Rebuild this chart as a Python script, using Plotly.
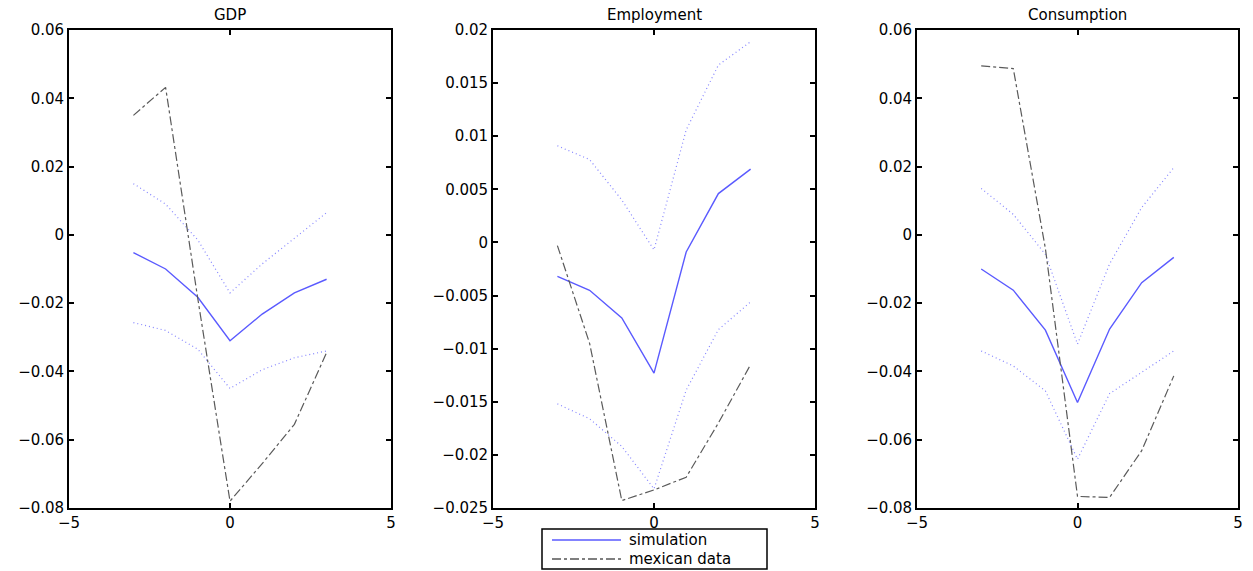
import plotly.graph_objects as go

lags = [-3, -2, -1, 0, 1, 2, 3]
titles = ["GDP", "Employment", "Consumption"]
legend_names = ["simulation", "mexican data"]

gdp_sim = [-0.0052, -0.0100, -0.0183, -0.0310, -0.0232, -0.0170, -0.0130]
gdp_up = [0.0150, 0.0090, -0.0015, -0.0170, -0.0085, -0.0010, 0.0065]
gdp_lo = [-0.0257, -0.0280, -0.0335, -0.0450, -0.0395, -0.0360, -0.0340]
gdp_mex = [0.0350, 0.0432, -0.0187, -0.0780, -0.0670, -0.0555, -0.0345]

emp_sim = [-0.0032, -0.0045, -0.0071, -0.0123, -0.0009, 0.0046, 0.0069]
emp_up = [0.0091, 0.0078, 0.0040, -0.0007, 0.0106, 0.0167, 0.0189]
emp_lo = [-0.0152, -0.0166, -0.0192, -0.0232, -0.0139, -0.0082, -0.0056]
emp_mex = [-0.0003, -0.0095, -0.0243, -0.0233, -0.0221, -0.0170, -0.0115]

con_sim = [-0.0100, -0.0162, -0.0279, -0.0491, -0.0276, -0.0140, -0.0066]
con_up = [0.0136, 0.0060, -0.0057, -0.0320, -0.0085, 0.0080, 0.0197]
con_lo = [-0.0340, -0.0384, -0.0457, -0.0657, -0.0465, -0.0403, -0.0340]
con_mex = [0.0495, 0.0487, -0.0040, -0.0766, -0.0769, -0.0632, -0.0413]

x_ticks = [-5, 0, 5]
x_ticktext = ["\u22125", "0", "5"]
y_ticks_a = [-0.08, -0.06, -0.04, -0.02, 0, 0.02, 0.04, 0.06]
y_text_a = ["\u22120.08", "\u22120.06", "\u22120.04", "\u22120.02", "0", "0.02", "0.04", "0.06"]
y_ticks_b = [-0.025, -0.02, -0.015, -0.01, -0.005, 0, 0.005, 0.01, 0.015, 0.02]
y_text_b = ["\u22120.025", "\u22120.02", "\u22120.015", "\u22120.01", "\u22120.005", "0",
            "0.005", "0.01", "0.015", "0.02"]

panels = [
    (gdp_sim, gdp_up, gdp_lo, gdp_mex, [-0.08, 0.06], y_ticks_a, y_text_a),
    (emp_sim, emp_up, emp_lo, emp_mex, [-0.025, 0.02], y_ticks_b, y_text_b),
    (con_sim, con_up, con_lo, con_mex, [-0.08, 0.06], y_ticks_a, y_text_a),
]

W, H = 1253, 571
x_domains = [(69, 391), (493, 815), (917, 1238)]
y_top, y_bot = 30, 508

SIM_C = "#5a5aff"
BAND_C = "#8585ff"
MEX_C = "#5a5a5a"
FONT = "DejaVu Sans, Liberation Sans, Arial, sans-serif"
FS = 15

fig = go.Figure()
layout = {}
annotations = []
for i, (sim, up, lo, mex, yr, yt, ytt) in enumerate(panels):
    n = "" if i == 0 else str(i + 1)
    xa, ya = "x" + n, "y" + n
    fig.add_trace(go.Scatter(x=lags, y=up, mode="lines", xaxis=xa, yaxis=ya,
                             line=dict(color=BAND_C, width=1.2, dash="1px,3px"),
                             showlegend=False, hoverinfo="skip"))
    fig.add_trace(go.Scatter(x=lags, y=lo, mode="lines", xaxis=xa, yaxis=ya,
                             line=dict(color=BAND_C, width=1.2, dash="1px,3px"),
                             showlegend=False, hoverinfo="skip"))
    fig.add_trace(go.Scatter(x=lags, y=sim, mode="lines", xaxis=xa, yaxis=ya,
                             name=legend_names[0], line=dict(color=SIM_C, width=1.4),
                             showlegend=False))
    fig.add_trace(go.Scatter(x=lags, y=mex, mode="lines", xaxis=xa, yaxis=ya,
                             name=legend_names[1],
                             line=dict(color=MEX_C, width=1.2, dash="dashdot"),
                             showlegend=False))
    d0, d1 = x_domains[i]
    layout["xaxis" + n] = dict(
        domain=[d0 / W, d1 / W], range=[-5, 5], anchor=ya,
        tickvals=x_ticks, ticktext=x_ticktext, ticks="inside", ticklen=5,
        tickwidth=1.5, tickcolor="black",
        showline=True, linecolor="black", linewidth=1.8, mirror="ticks",
        showgrid=False, zeroline=False,
        tickfont=dict(family=FONT, size=FS, color="black"),
    )
    layout["yaxis" + n] = dict(
        domain=[1 - y_bot / H, 1 - y_top / H], range=yr, anchor=xa,
        tickvals=yt, ticktext=ytt, ticks="inside", ticklen=5,
        tickwidth=1.5, tickcolor="black",
        showline=True, linecolor="black", linewidth=1.8, mirror="ticks",
        showgrid=False, zeroline=False,
        tickfont=dict(family=FONT, size=FS, color="black"),
    )
    annotations.append(dict(
        text=titles[i], x=(d0 + d1) / 2 / W, y=1 - 15 / H, xref="paper", yref="paper",
        xanchor="center", yanchor="middle", showarrow=False,
        font=dict(family=FONT, size=FS, color="black"),
    ))

# legend box drawn in paper coordinates (key, not data)
def px(x):
    return x / W


def py(y):
    return 1 - y / H


shapes = [
    dict(type="rect", xref="paper", yref="paper", x0=px(542), x1=px(767),
         y0=py(569), y1=py(529), line=dict(color="black", width=1.5),
         fillcolor="white", layer="above"),
    dict(type="line", xref="paper", yref="paper", x0=px(552), x1=px(621),
         y0=py(540), y1=py(540), line=dict(color=SIM_C, width=1.4), layer="above"),
    dict(type="line", xref="paper", yref="paper", x0=px(552), x1=px(621),
         y0=py(559), y1=py(559), line=dict(color="black", width=1.2, dash="dashdot"),
         layer="above"),
]
for name, yy in zip(legend_names, [540, 559]):
    annotations.append(dict(
        text=name, x=px(627), y=py(yy), xref="paper", yref="paper",
        xanchor="left", yanchor="middle", showarrow=False,
        font=dict(family=FONT, size=FS, color="black"),
    ))

fig.update_layout(
    width=W, height=H,
    margin=dict(l=0, r=0, t=0, b=0, autoexpand=False),
    paper_bgcolor="white", plot_bgcolor="white",
    annotations=annotations,
    shapes=shapes,
    showlegend=False,
    **layout,
)

fig.write_html("out.html", config={"displayModeBar": False},
               post_script="document.body.style.margin='0';document.body.style.padding='0';")
